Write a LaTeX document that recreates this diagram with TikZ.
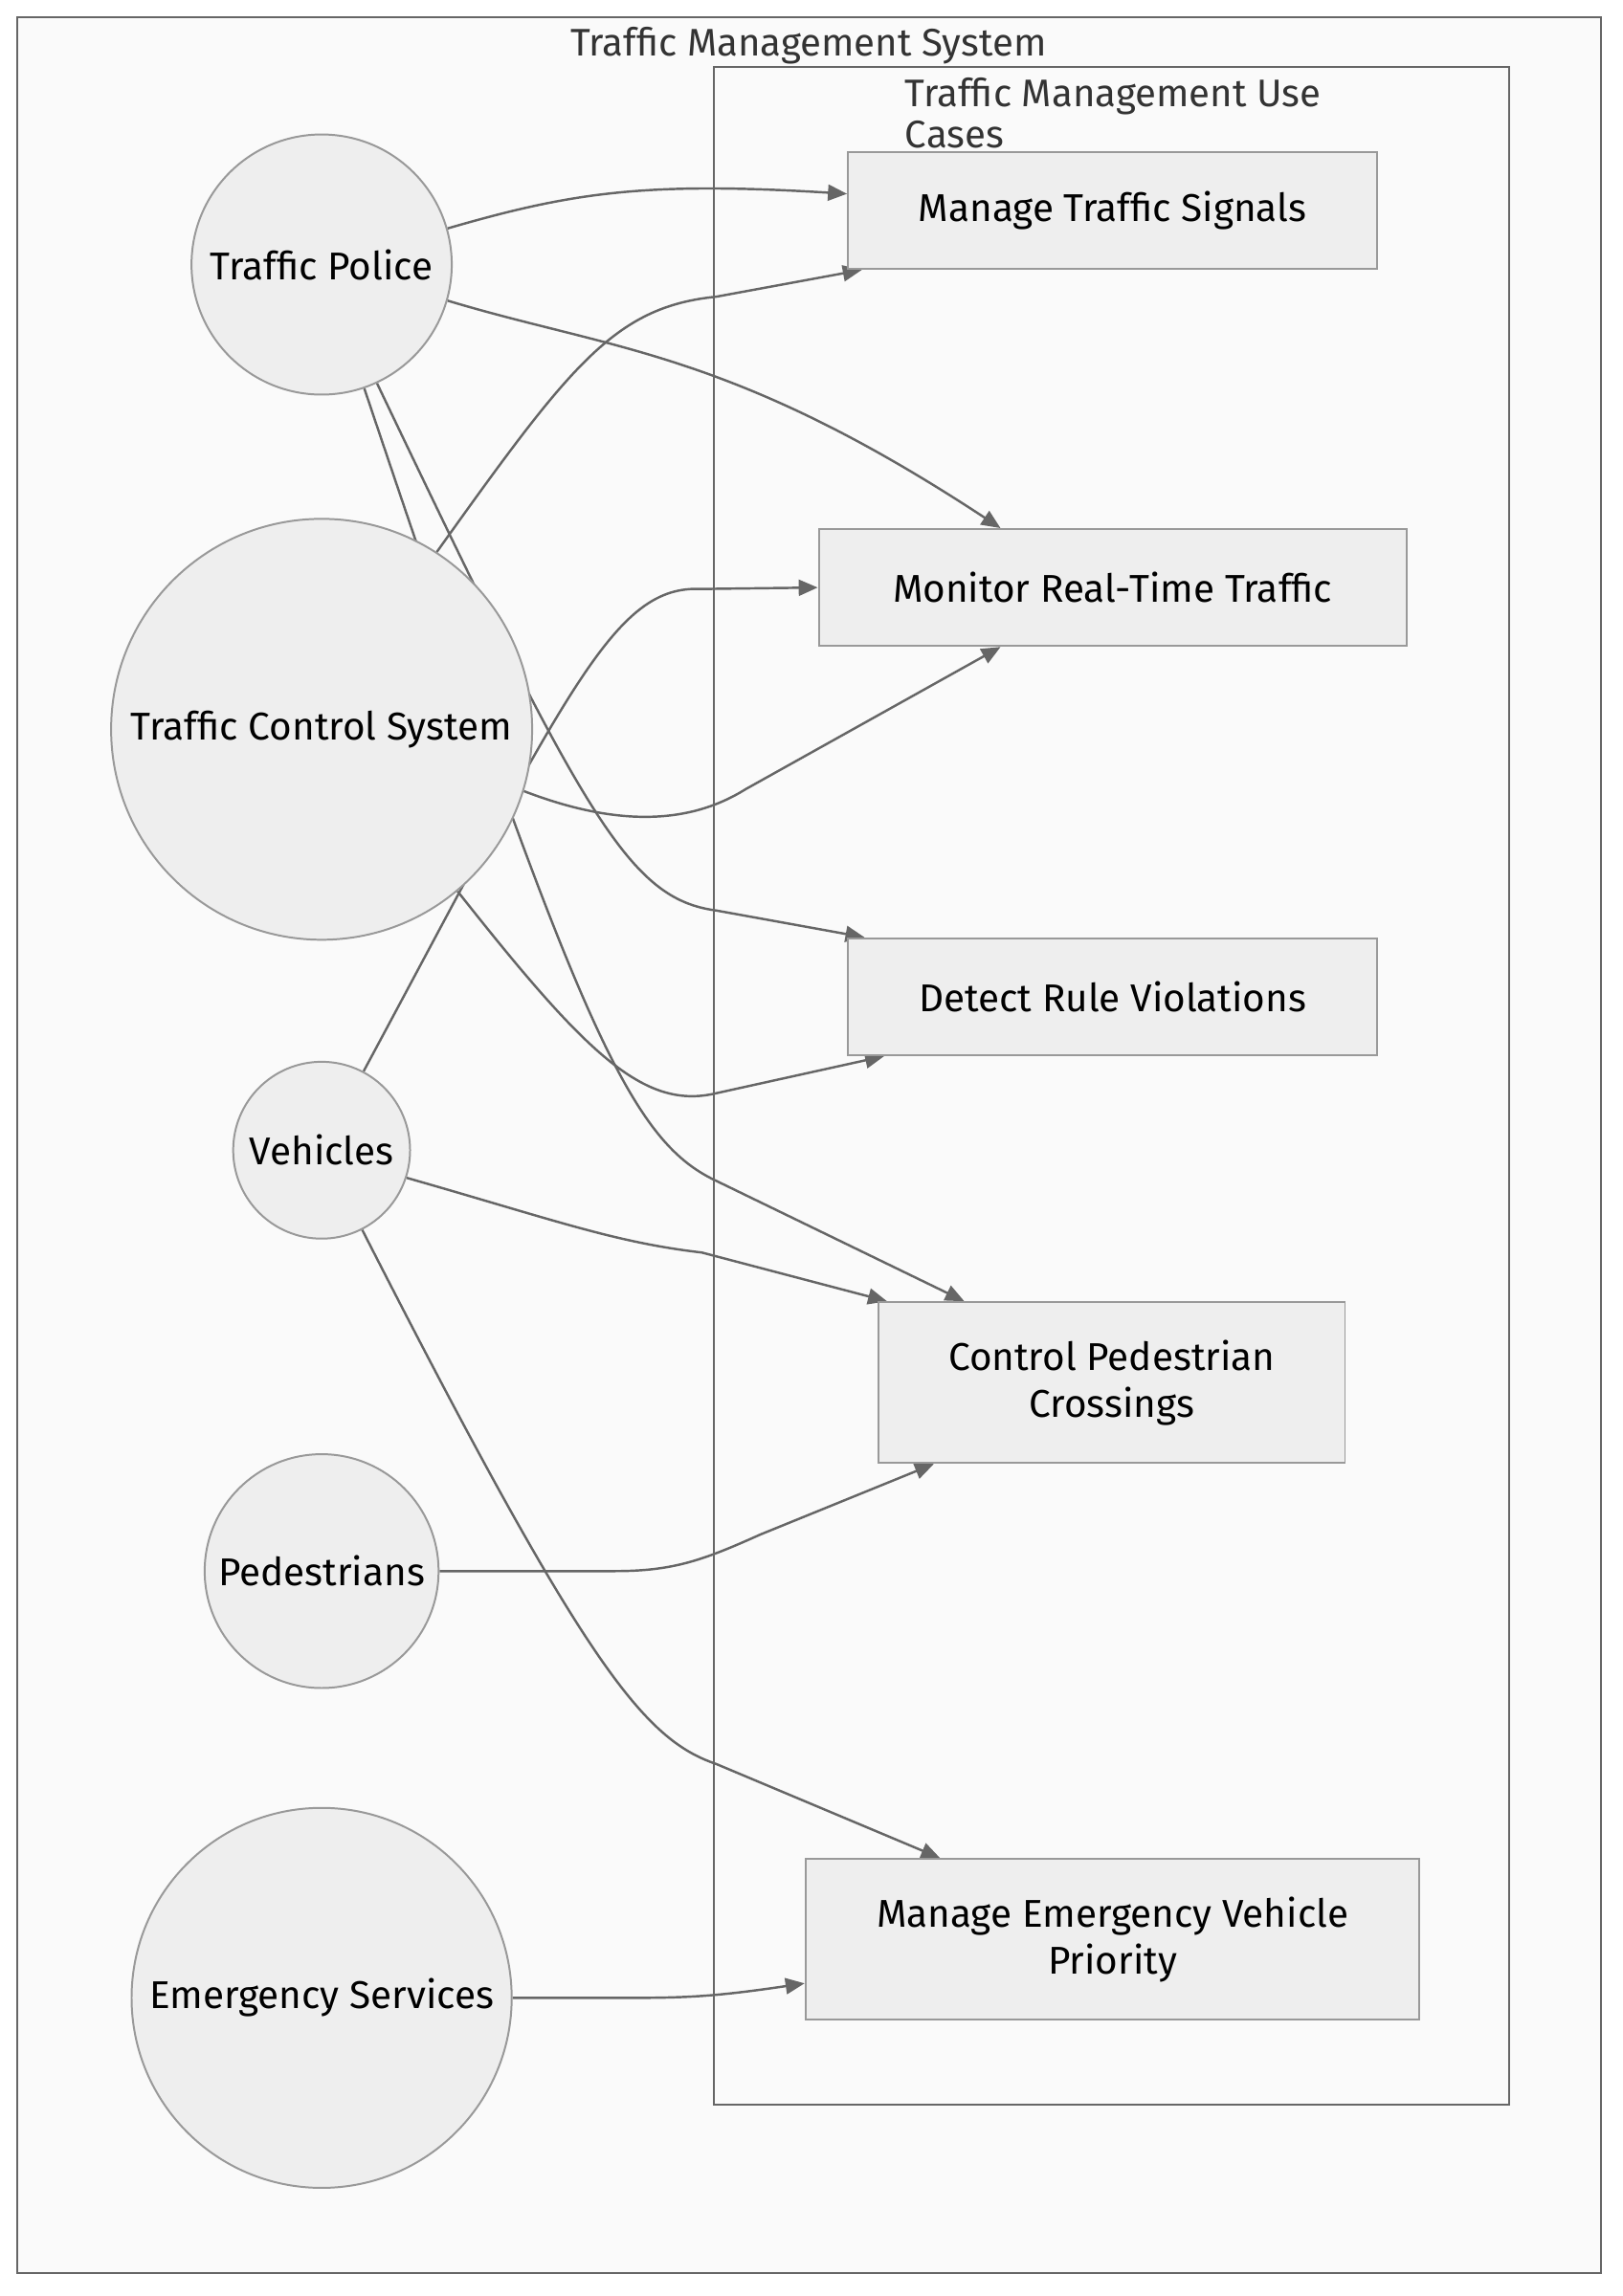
\documentclass[tikz,border=0pt]{standalone}
\usepackage{fontspec}
\setmainfont{Fira Sans}
\usetikzlibrary{arrows.meta,calc}
\pgfdeclarelayer{bg}
\pgfdeclarelayer{edges}
\pgfsetlayers{bg,edges,main}
\definecolor{nodefill}{HTML}{EEEEEE}
\definecolor{nodeline}{HTML}{999999}
\definecolor{edgecol}{HTML}{666666}
\definecolor{clfill}{HTML}{FAFAFA}
\definecolor{clline}{HTML}{666666}
\definecolor{titlecol}{HTML}{333333}
\begin{document}
\begin{tikzpicture}[x=1pt,y=-1pt,
 actor/.style={circle,draw=nodeline,fill=nodefill,line width=1.3pt,inner sep=0pt,font=\fontsize{26.5}{32}\selectfont},
 usecase/.style={rectangle,draw=nodeline,fill=nodefill,line width=1.3pt,inner sep=0pt,align=center,font=\fontsize{26.5}{32}\selectfont},
 edge/.style={draw=edgecol,line width=1.6pt,-{Triangle[length=13pt,width=11pt]}},
 cluster/.style={draw=clline,fill=clfill,line width=1.3pt},
 cltitle/.style={text=titlecol,font=\fontsize{26.3}{28}\selectfont,inner sep=0pt}]
\useasboundingbox (0,0) rectangle (1110,1571);
\begin{pgfonlayer}{bg}
\fill[white] (0,0) rectangle (1110,1571);
\draw[cluster] (12,12) rectangle (1095,1555);
\draw[cluster] (488,46) rectangle (1032,1440);
\end{pgfonlayer}
\node[cltitle] (t1) at (553,31) {Traffic Management System};
\node[cltitle,anchor=north west,align=left] (t2) at (619,53) {Traffic Management Use\\Cases};
% actors
\node[actor,minimum size=178pt] (tp) at (220,181) {Traffic Police};
\node[actor,minimum size=288pt] (tcs) at (220,499) {Traffic Control System};
\node[actor,minimum size=121pt] (veh) at (220,787) {Vehicles};
\node[actor,minimum size=160pt] (ped) at (220,1075) {Pedestrians};
\node[actor,minimum size=260pt] (es) at (220,1367) {Emergency Services};
% use cases
\node[usecase,minimum width=362pt,minimum height=80pt] (mts) at (761,144) {Manage Traffic Signals};
\node[usecase,minimum width=402pt,minimum height=80pt] (mrt) at (761,402) {Monitor Real-Time Traffic};
\node[usecase,minimum width=362pt,minimum height=80pt] (drv) at (761,682) {Detect Rule Violations};
\node[usecase,minimum width=319pt,minimum height=110pt] (cpc) at (760.5,946) {Control Pedestrian\\Crossings};
\node[usecase,minimum width=420pt,minimum height=110pt] (mev) at (761,1327) {Manage Emergency Vehicle\\Priority};
\begin{pgfonlayer}{edges}
\draw[edge] (tp.16) .. controls (390,132) and (440,124) .. ($(mts.north west)!0.36!(mts.south west)$);
\draw[edge] (tp.-16) .. controls (420,240) and (500,240) .. ($(mrt.north west)!0.31!(mrt.north east)$);
\draw[edge] (tp.-65) .. controls (400,560) and (430,615) .. (490,623) -- ($(drv.north west)!0.033!(drv.north east)$);
\draw[edge] (tp.-71) .. controls (395,700) and (430,780) .. (490,808) -- ($(cpc.north west)!0.185!(cpc.north east)$);
\draw[edge] (tcs.57) .. controls (390,250) and (420,210) .. (490,203) -- ($(mts.south west)!0.028!(mts.south east)$);
\draw[edge] (tcs.-17) .. controls (420,565) and (470,565) .. (510,540) -- ($(mrt.south west)!0.31!(mrt.south east)$);
\draw[edge] (tcs.-50) .. controls (400,720) and (440,760) .. (490,748) -- ($(drv.south west)!0.07!(drv.south east)$);
\draw[edge] (veh.62) .. controls (390,470) and (420,400) .. (480,403) -- (mrt.west);
\draw[edge] (veh.-18) .. controls (380,835) and (420,850) .. (480,857) -- ($(cpc.north west)!0.02!(cpc.north east)$);
\draw[edge] (veh.-63) .. controls (400,1140) and (440,1190) .. (490,1207) -- ($(mev.north west)!0.22!(mev.north east)$);
\draw[edge] (ped.east) -- (420,1075) .. controls (460,1075) and (480,1068) .. (520,1050) -- ($(cpc.south west)!0.12!(cpc.south east)$);
\draw[edge] (es.east) -- (430,1367) .. controls (470,1367) and (490,1366) .. ($(mev.north west)!0.77!(mev.south west)$);
\end{pgfonlayer}
\end{tikzpicture}
\end{document}
